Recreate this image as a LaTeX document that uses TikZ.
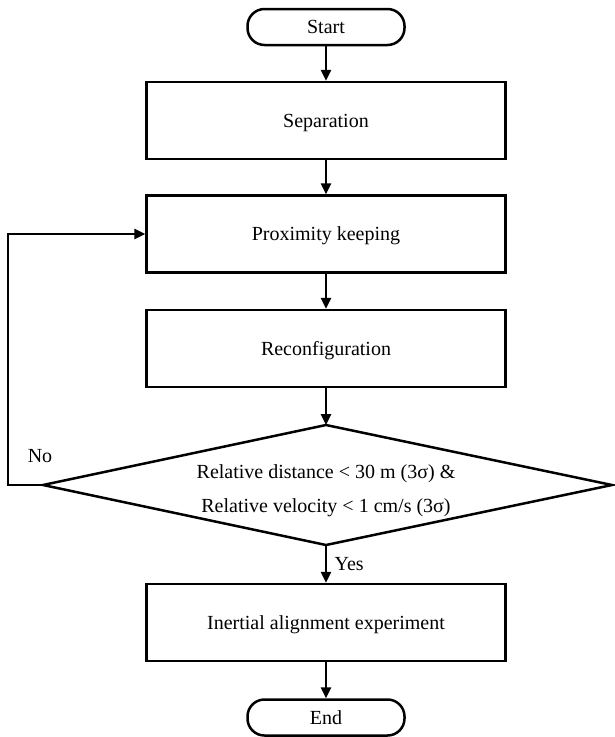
\documentclass[tikz,border=0pt]{standalone}
\usepackage{fontspec}
\setmainfont{Liberation Serif}
\usetikzlibrary{shapes.geometric,arrows.meta}
\begin{document}
\begin{tikzpicture}[x=1pt,y=-1pt,
  every node/.style={font=\fontsize{20}{24}\selectfont},
  box/.style={draw,line width=2.5pt,minimum width=359pt,minimum height=77pt,inner sep=0pt,text height=13pt,text depth=0pt},
  term/.style={draw,line width=2.5pt,rounded corners=17pt,minimum width=157pt,minimum height=36pt,inner sep=0pt,text height=13pt,text depth=0pt},
  arr/.style={line width=2.5pt,-{Triangle[length=11pt,width=10pt]}},
  ln/.style={line width=2.5pt}]
\useasboundingbox (0,0) rectangle (614,737);
\node[term] (start) at (326,27) {Start};
\node[box] (sep) at (326,120.5) {Separation};
\node[box] (prox) at (326,234) {Proximity keeping};
\node[box] (rec) at (326,348.5) {Reconfiguration};
\coordinate (dt) at (326,425);
\coordinate (dl) at (43,485);
\coordinate (dr) at (612,485);
\coordinate (db) at (326,545);
\draw[ln,line join=miter] (dt) -- (dr) -- (db) -- (dl) -- cycle;
\node[align=center] (cond) at (326,491) {Relative distance < 30 m (3σ) \&\\[10pt]Relative velocity < 1 cm/s (3σ)};
\node[box] (ine) at (326,622.5) {Inertial alignment experiment};
\node[term] (end) at (326,717.5) {End};
\coordinate (lb) at (8,485);
\coordinate (lt) at (8,234);
\draw[arr] (start) -- (sep);
\draw[arr] (sep) -- (prox);
\draw[arr] (prox) -- (rec);
\draw[arr] (rec) -- (dt);
\draw[arr] (db) -- node[right,pos=0.5,xshift=4pt] (yes) {Yes} (ine);
\draw[arr] (ine) -- (end);
\draw[arr,line join=miter] (dl) -- (lb) -- (lt) -- (prox.west);
\node (no) at (40,456) {No};
\end{tikzpicture}
\end{document}
